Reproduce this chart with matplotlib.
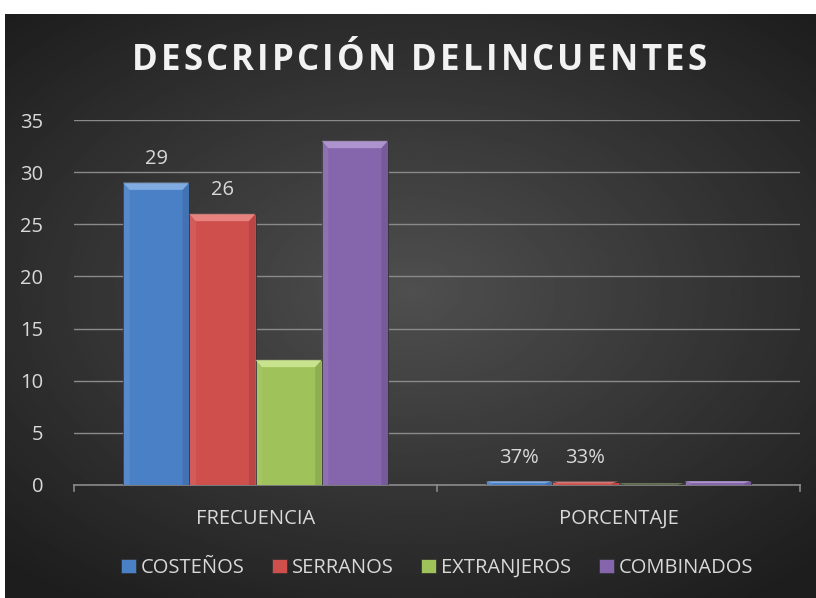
import numpy as np
import matplotlib.pyplot as plt
from matplotlib.patches import Polygon, Patch

categories = ["FRECUENCIA", "PORCENTAJE"]
series = ["COSTEÑOS", "SERRANOS", "EXTRANJEROS", "COMBINADOS"]
costenos = [29, 0.37]
serranos = [26, 0.33]
extranjeros = [12, 0.14]
combinados = [33, 0.38]
labels_costenos = ["29", "37%"]
labels_serranos = ["26", "33%"]
title = "DESCRIPCIÓN DELINCUENTES"

colors = ["#4a80c6", "#cf4f4d", "#9fc25a", "#8565ac"]
light = ["#8fb8ea", "#ee8f8c", "#d2ec9a", "#b9a0d8"]
txtcol = "#d9d9d9"
fs = 14.5

plt.rcParams['font.family'] = ['Open Sans', 'DejaVu Sans']

fig = plt.figure(figsize=(8.16, 5.98), dpi=100)
fig.patch.set_facecolor("white")

# dark background with radial gradient
bg = fig.add_axes([5 / 816, 0, 811 / 816, 584 / 598])
yy, xx = np.mgrid[-1:1:300j, -1:1:400j]
r = np.sqrt((xx * 0.9) ** 2 + (yy + 0.05) ** 2)
bg.imshow(0.31 - 0.15 * np.clip(r, 0, 1.3), cmap="gray", vmin=0, vmax=1,
          aspect="auto", extent=[0, 1, 0, 1])
bg.axis("off")

ax = fig.add_axes([74 / 816, (598 - 485) / 598, 726 / 816, 365 / 598])
ax.set_facecolor("none")

x = np.arange(len(categories))
w = 0.73 / 4
data = [costenos, serranos, extranjeros, combinados]
for i, vals in enumerate(data):
    bars = ax.bar(x + (i - 1.5) * w, vals, w, color=colors[i],
                  edgecolor="#303030", linewidth=0.6, zorder=3)
    # simple bevel on each bar
    for b in bars:
        bx, bw, bh = b.get_x(), b.get_width(), b.get_height()
        d = min(0.7, bh * 0.5)
        ax.add_patch(Polygon([(bx, bh), (bx + bw, bh), (bx + bw * 0.9, bh - d),
                              (bx + bw * 0.1, bh - d)], closed=True,
                             facecolor=light[i], edgecolor="none", alpha=0.8, zorder=4))
        ax.add_patch(Polygon([(bx, 0), (bx, bh), (bx + bw * 0.1, bh - d),
                              (bx + bw * 0.1, 0)], closed=True,
                             facecolor="white", edgecolor="none", alpha=0.08, zorder=4))
        ax.add_patch(Polygon([(bx + bw, 0), (bx + bw, bh), (bx + bw * 0.9, bh - d),
                              (bx + bw * 0.9, 0)], closed=True,
                             facecolor="black", edgecolor="none", alpha=0.1, zorder=4))
    if i == 0:
        lbls = labels_costenos
    elif i == 1:
        lbls = labels_serranos
    else:
        lbls = None
    if lbls:
        for b, t in zip(bars, lbls):
            ax.text(b.get_x() + b.get_width() / 2, b.get_height() + 1.3, t,
                    ha="center", va="bottom", color=txtcol, fontsize=fs, zorder=5)

ax.set_ylim(0, 35)
ax.set_xlim(-0.5, 1.5)
ax.set_yticks(range(0, 36, 5))
ax.yaxis.grid(True, color="#8a8a8a", linewidth=1, zorder=0)
ax.set_axisbelow(True)
ax.set_xticks(x)
ax.set_xticklabels(categories)
ax.tick_params(axis="y", length=0, colors=txtcol, labelsize=fs, pad=22)
ax.tick_params(axis="x", length=0, colors=txtcol, labelsize=fs, pad=17)
for s in ["top", "right", "left"]:
    ax.spines[s].set_visible(False)
ax.spines["bottom"].set_color("#8a8a8a")
ax.spines["bottom"].set_linewidth(1.2)
# ticks separating the categories
for xt in [-0.5, 0.5, 1.5]:
    ax.plot([xt, xt], [0, -0.6], color="#8a8a8a", lw=1.2, clip_on=False)

# title with letter spacing
renderer = fig.canvas.get_renderer()
spacing = 3.2
pieces = []
total = 0
for ch in title:
    t = fig.text(0, 0, ch, color="#f2f2f2", fontsize=25, fontweight="bold",
                 va="center", ha="left")
    wch = t.get_window_extent(renderer).width
    pieces.append((t, wch))
    total += wch + spacing
total -= spacing
xpos = 419 - total / 2
for t, wch in pieces:
    t.set_position((xpos / 816, 1 - 61 / 598))
    xpos += wch + spacing

handles = [Patch(facecolor=c, edgecolor="#303030", linewidth=0.5) for c in colors]
fig.legend(handles, series, loc="center", bbox_to_anchor=(437 / 816, 1 - 568 / 598),
           ncol=4, frameon=False, fontsize=fs, labelcolor=txtcol,
           handlelength=0.75, handleheight=0.75, handletextpad=0.25, columnspacing=1.35)

fig.savefig("out.png", dpi=100)
